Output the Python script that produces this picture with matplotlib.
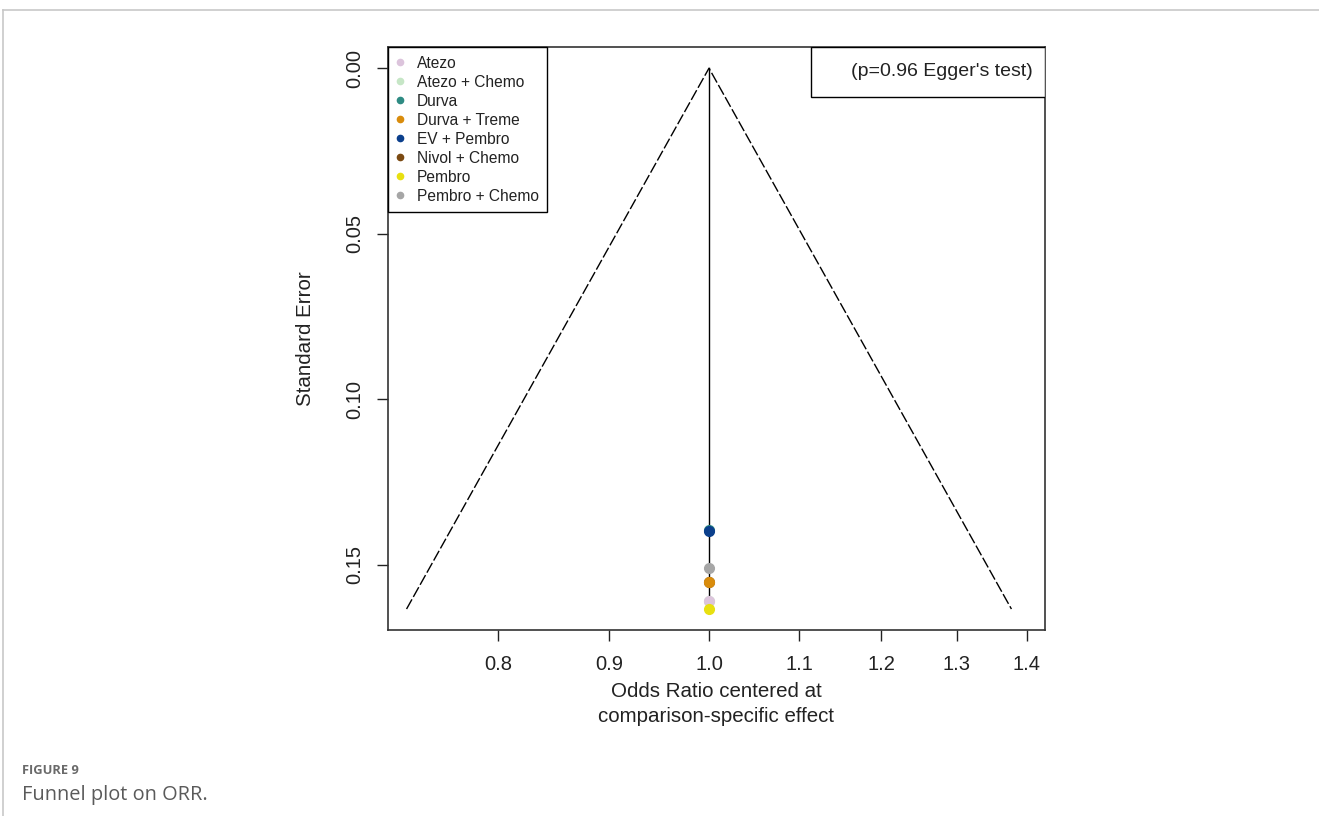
import matplotlib
matplotlib.use("Agg")
import matplotlib.pyplot as plt
from matplotlib.lines import Line2D
from matplotlib.patches import Rectangle
from matplotlib.ticker import FixedLocator, FixedFormatter, NullLocator
import numpy as np

# ---- data ----
treatments = ["Atezo", "Atezo + Chemo", "Durva", "Durva + Treme", "EV + Pembro",
              "Nivol + Chemo", "Pembro", "Pembro + Chemo"]
colors = ["#dcc4dc", "#c6e6c6", "#2e8b83", "#d98c0c", "#0b3f8c",
          "#7b4a12", "#e8e010", "#a6a6a6"]
# point standard errors and centred odds ratios
point_se = [0.161, 0.161, 0.1393, 0.155, 0.1397, 0.155, 0.1633, 0.151]
point_or = [1.0, 1.0, 1.0, 1.0, 1.0, 1.0, 1.0, 1.0]
draw_order = [1, 0, 5, 3, 7, 2, 4, 6]
se_max = 0.1633
x_ticks = [0.8, 0.9, 1.0, 1.1, 1.2, 1.3, 1.4]
x_tick_labels = ["0.8", "0.9", "1.0", "1.1", "1.2", "1.3", "1.4"]
y_ticks = [0.00, 0.05, 0.10, 0.15]
y_tick_labels = ["0.00", "0.05", "0.10", "0.15"]
egger_text = "(p=0.96 Egger's test)"

plt.rcParams['font.family'] = ['Liberation Sans', 'DejaVu Sans']

W, H = 1319, 816
fig = plt.figure(figsize=(W / 100, H / 100), dpi=100)

# frame lines of the figure page
fig.add_artist(Line2D([3 / W, 1], [1 - 10 / H, 1 - 10 / H], color="#c8c8c8", lw=1.2))
fig.add_artist(Line2D([3 / W, 3 / W], [0, 1 - 10 / H], color="#c8c8c8", lw=1.2))

ax = fig.add_axes([388 / W, 1 - 630 / H, (1045 - 388) / W, (630 - 47) / H])
ax.set_xscale('log')

# funnel
z = 1.96
lo = np.exp(-z * se_max)
hi = np.exp(z * se_max)
ax.plot([lo, 1.0, hi], [se_max, 0.0, se_max], color="black", lw=1.0,
        ls=(0, (8, 2)))
ax.plot([1.0, 1.0], [0.0, se_max], color="black", lw=1.0)

for i in draw_order:
    ax.plot(point_or[i], point_se[i], 'o', ms=7, color=colors[i],
            mec=colors[i], zorder=3)

ax.set_xlim(np.exp(-0.3397), np.exp(0.3556))
ax.set_ylim(se_max * 1.04 - 0.0002, -0.0064)

ax.xaxis.set_major_locator(FixedLocator(x_ticks))
ax.xaxis.set_major_formatter(FixedFormatter(x_tick_labels))
ax.xaxis.set_minor_locator(NullLocator())
ax.set_yticks(y_ticks)
ax.set_yticklabels(y_tick_labels, rotation=90, va='center')
ax.tick_params(axis='both', direction='out', length=8, width=1.0,
               labelsize=14.5, color="#222222", labelcolor="#222222", pad=10)
ax.tick_params(axis='y', pad=9)

for s in ax.spines.values():
    s.set_linewidth(1.2)
    s.set_color("#333333")

ax.set_ylabel("Standard Error", fontsize=14.8, color="#222222", labelpad=22)
ax.set_xlabel("Odds Ratio centered at\ncomparison-specific effect", fontsize=14.8,
              color="#222222", labelpad=6, linespacing=1.4)

# legend
handles = [Line2D([], [], marker='o', ls='none', ms=4.5, color=c, mec=c)
           for c in colors]
leg = ax.legend(handles, treatments, loc='upper left', fontsize=11.2,
                frameon=True, fancybox=False, borderaxespad=0,
                handlelength=0.5, handletextpad=0.8, labelspacing=0.26,
                borderpad=0.55, edgecolor="black", framealpha=1)
leg.get_frame().set_linewidth(1.0)
for t in leg.get_texts():
    t.set_color("#222222")

# Egger box
bx0 = (811 - 388) / (1045 - 388)
by0 = 1 - (97 - 47) / (630 - 47)
ax.add_patch(Rectangle((bx0, by0), 1 - bx0, 1 - by0, transform=ax.transAxes,
                       fill=True, facecolor="white", edgecolor="black", lw=1.0,
                       zorder=4))
ax.text(1 - 12 / 657, by0 + (1 - by0) / 2, egger_text, transform=ax.transAxes,
        ha='right', va='center', fontsize=14, color="#222222", zorder=5)

# caption
fig.text(22 / W, 1 - 770 / H, "FIGURE 9", fontsize=9.3, fontweight='bold',
         color="#6a6a6a", va='center', family=['Open Sans', 'DejaVu Sans'])
fig.text(22 / W, 1 - 795 / H, "Funnel plot on ORR.", fontsize=14.4,
         color="#5a5a5a", va='center', family=['Open Sans', 'DejaVu Sans'])

fig.savefig("out.png", dpi=100)
